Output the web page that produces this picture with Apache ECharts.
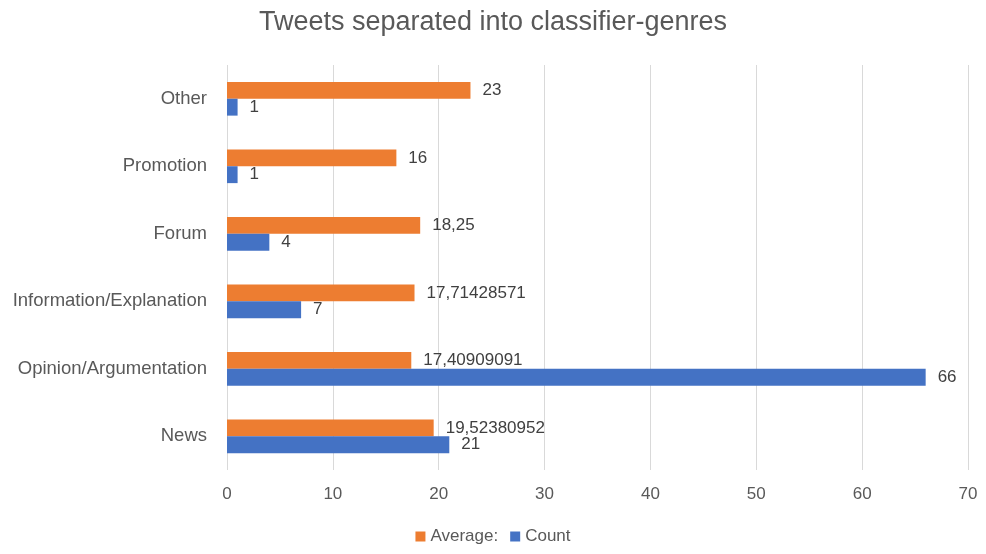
<!DOCTYPE html>
<html>
<head>
<meta charset="utf-8">
<script src="https://cdn.jsdelivr.net/npm/echarts@6/dist/echarts.min.js"></script>
<style>
  html, body { margin: 0; padding: 0; background: #fff; }
  #chart { width: 986px; height: 554px; }
</style>
</head>
<body>
<div id="chart"></div>
<script>
const genres = ["News", "Opinion/Argumentation", "Information/Explanation", "Forum", "Promotion", "Other"];
const countValues = [21, 66, 7, 4, 1, 1];
const averageValues = [19.52380952, 17.40909091, 17.71428571, 18.25, 16, 23];
const xTicks = [0, 10, 20, 30, 40, 50, 60, 70];

const font = "Liberation Sans";
const grey = "#595959";

// Excel-style decimal comma
const fmt = (p) => String(p.value).replace(".", ",");

const chart = echarts.init(document.getElementById("chart"));

chart.setOption({
  animation: false,
  textStyle: { fontFamily: font },
  title: {
    text: "Tweets separated into classifier-genres",
    left: "center",
    top: 4,
    textStyle: { fontFamily: font, fontSize: 27, fontWeight: "normal", color: grey },
  },
  legend: {
    data: ["Average:", "Count"],
    bottom: 4,
    left: "center",
    itemWidth: 10,
    itemHeight: 10,
    itemGap: 12,
    icon: "rect",
    textStyle: { fontFamily: font, fontSize: 17, color: grey },
  },
  grid: { left: 227, right: 18, top: 65, bottom: 84 },
  xAxis: {
    type: "value",
    min: xTicks[0],
    max: xTicks[xTicks.length - 1],
    interval: 10,
    axisLine: { show: false },
    axisTick: { show: false },
    axisLabel: { color: grey, fontSize: 17, margin: 16 },
    splitLine: { lineStyle: { color: "#d9d9d9", width: 1 } },
  },
  yAxis: {
    type: "category",
    data: genres,
    axisLine: { show: false },
    axisTick: { show: false },
    axisLabel: { color: grey, fontSize: 18.5, margin: 20 },
  },
  series: [
    {
      name: "Average:",
      type: "bar",
      data: averageValues,
      barGap: "0%",
      barCategoryGap: "50%",
      itemStyle: { color: "#ed7d31" },
      label: { show: true, position: "right", distance: 12, color: "#404040", fontSize: 17, formatter: fmt },
    },
    {
      name: "Count",
      type: "bar",
      data: countValues,
      barGap: "0%",
      barCategoryGap: "50%",
      itemStyle: { color: "#4472c4" },
      label: { show: true, position: "right", distance: 12, color: "#404040", fontSize: 17, formatter: fmt },
    },
  ],
});
</script>
</body>
</html>
